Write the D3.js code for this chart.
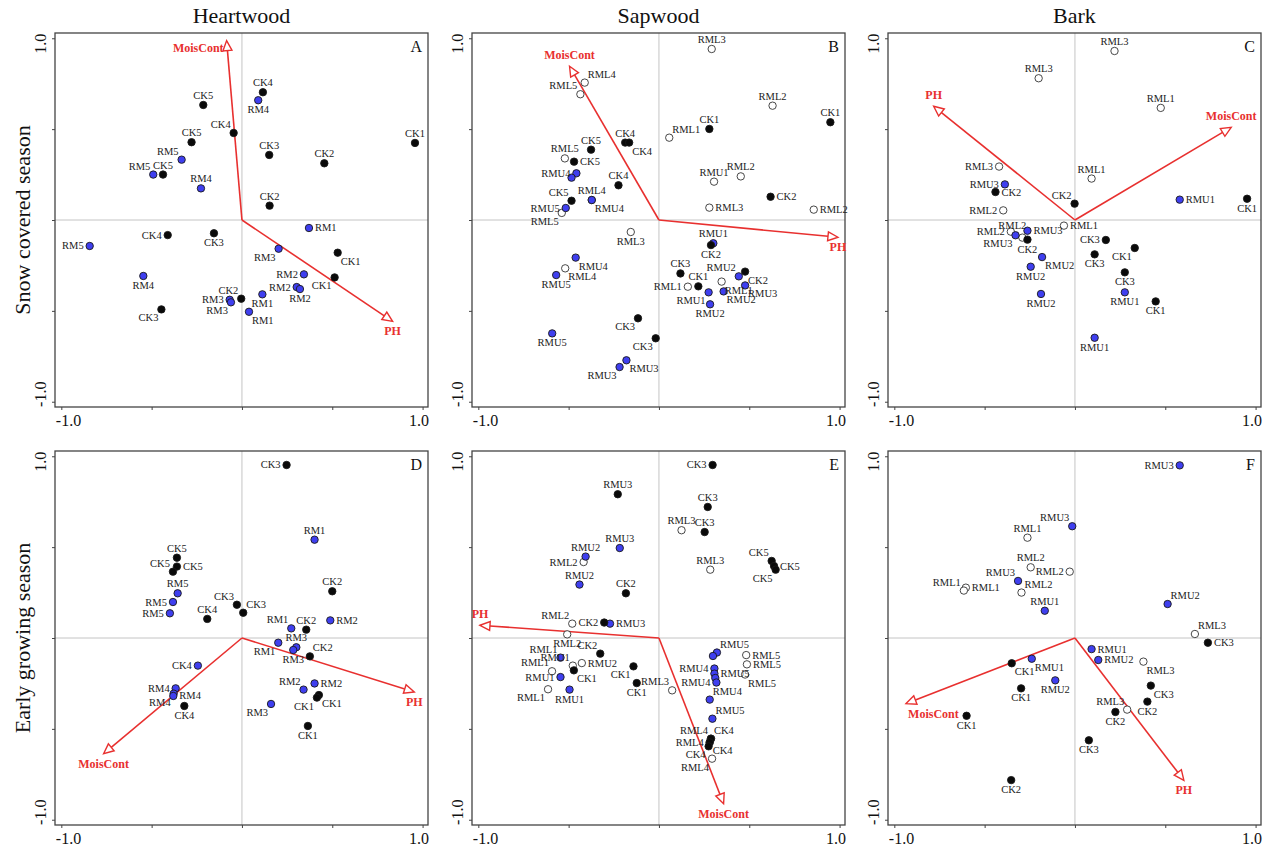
<!DOCTYPE html>
<html lang="en">
<head>
<meta charset="utf-8">
<script src="https://d3js.org/d3.v7.min.js"></script>
<style>
  body { margin: 0; background: #fff; }
  svg { font-family: "Liberation Serif", "Times New Roman", serif; }
</style>
</head>
<body>
<svg id="chart" width="1272" height="850"></svg>
<script>
// titles
var colTitles = ["Heartwood", "Sapwood", "Bark"];
var rowTitles = ["Snow covered season", "Early growing season"];
var panelLetters = ["A", "B", "C", "D", "E", "F"];
var tickVals = [-1, -0.5, 0, 0.5, 1];

// sample scores: [label, group, axis1, axis2]
// group: k = CK (black), u = filled blue, o = open circle
var ptsA = [
  ["CK4","k",0.116,0.703],["RM4","u",0.090,0.659],["CK5","k",-0.214,0.633],["CK4","k",-0.046,0.479],
  ["CK1","k",0.958,0.424],["CK5","k",-0.279,0.428],["CK3","k",0.151,0.358],["CK2","k",0.456,0.312],
  ["RM5","u",-0.334,0.332],["RM5","u",-0.491,0.250],["CK5","k",-0.437,0.250],["RM4","u",-0.227,0.174],
  ["CK2","k",0.153,0.079],["RM1","u",0.371,-0.044],["CK4","k",-0.411,-0.083],["CK3","k",-0.155,-0.073],
  ["RM5","u",-0.843,-0.143],["RM3","u",0.203,-0.158],["CK1","k",0.530,-0.180],["RM2","u",0.343,-0.299],
  ["CK1","k",0.513,-0.316],["RM4","u",-0.546,-0.308],["RM2","u",0.303,-0.369],["RM2","u",0.321,-0.380],
  ["CK2","k",-0.004,-0.433],["RM3","u",-0.068,-0.439],["RM3","u",-0.061,-0.453],["RM1","u",0.113,-0.409],
  ["RM1","u",0.039,-0.505],["CK3","k",-0.446,-0.492]
];
var sideA = "t b t tl t t t t tl tl t t t r l b l bl br l bl b l b tl l bl b br bl".split(" ");

var ptsB = [
  ["RML3","o",0.292,0.941],["RML4","o",-0.411,0.756],["RML5","o",-0.435,0.692],["RML2","o",0.629,0.629],
  ["CK1","k",0.949,0.538],["CK1","k",0.279,0.501],["RML1","o",0.057,0.453],["CK4","k",-0.187,0.426],
  ["CK4","k",-0.165,0.426],["CK5","k",-0.376,0.387],["RML5","o",-0.521,0.339],["CK5","k",-0.470,0.321],
  ["RMU4","u",-0.457,0.257],["RMU4","u",-0.484,0.233],["CK4","k",-0.224,0.191],["RML4","o",-0.372,0.110],
  ["RMU4","u",-0.372,0.110],["CK5","k",-0.484,0.106],["RMU5","u",-0.516,0.066],["RML5","o",-0.538,0.039],
  ["RMU1","o",0.305,0.211],["RML2","o",0.453,0.240],["CK2","k",0.618,0.128],["RML3","o",0.279,0.068],
  ["RML2","o",0.857,0.057],["RML3","o",-0.156,-0.066],["CK2","k",0.288,-0.138],["RMU1","u",0.301,-0.128],
  ["RMU4","u",-0.461,-0.207],["RML4","o",-0.519,-0.266],["RMU5","u",-0.569,-0.303],["CK3","k",0.119,-0.294],
  ["RMU2","u",0.442,-0.310],["CK2","k",0.477,-0.284],["CK1","k",0.218,-0.365],["RML1","o",0.160,-0.367],
  ["RML1","o",0.347,-0.339],["RMU3","u",0.477,-0.360],["RMU1","u",0.275,-0.398],["RMU2","u",0.358,-0.393],
  ["RMU2","u",0.283,-0.464],["CK3","k",-0.116,-0.541],["RMU5","u",-0.591,-0.624],["CK3","k",-0.018,-0.651],
  ["RMU3","u",-0.180,-0.772],["RMU3","u",-0.218,-0.809]
];
var sideB = ("t tr tl t t t tr t br t t r l n t t br tl l bl t t r r r b b t br br b t tl br t l br br bl br " +
  "b bl b bl br bl").split(" ");

var ptsC = [
  ["RML3","o",0.219,0.930],["RML3","o",-0.201,0.780],["RML1","o",0.475,0.617],["RML3","o",-0.420,0.294],
  ["RML1","o",0.092,0.228],["RMU3","u",-0.388,0.196],["CK2","k",-0.440,0.154],["CK2","k",-0.002,0.090],
  ["RMU1","u",0.580,0.112],["CK1","k",0.953,0.117],["RML2","o",-0.397,0.053],["RML1","o",-0.061,-0.031],
  ["RML2","o",-0.355,-0.064],["RMU3","u",-0.329,-0.084],["RML2","o",-0.291,-0.097],["RMU3","u",-0.263,-0.059],
  ["CK2","k",-0.263,-0.108],["CK3","k",0.171,-0.110],["CK1","k",0.331,-0.154],["CK3","k",0.109,-0.189],
  ["RMU2","u",-0.182,-0.204],["RMU2","u",-0.245,-0.257],["CK3","k",0.276,-0.288],["RMU1","u",0.276,-0.398],
  ["CK1","k",0.447,-0.448],["RMU2","u",-0.188,-0.407],["RMU1","u",0.109,-0.648]
];
var sideC = "t t t l t l r tl r b l r l bl hl r b l bl b br b b b b b b".split(" ");

var ptsD = [
  ["CK3","k",0.247,0.952],["RM1","u",0.402,0.541],["CK5","k",-0.360,0.442],["CK5","k",-0.360,0.393],
  ["CK5","k",-0.382,0.365],["CK2","k",0.500,0.257],["RM5","u",-0.356,0.246],["RM5","u",-0.382,0.198],
  ["RM5","u",-0.399,0.136],["CK3","k",-0.028,0.183],["CK3","k",0.007,0.139],["CK4","k",-0.192,0.105],
  ["RM1","u",0.273,0.053],["CK2","k",0.356,0.046],["RM2","u",0.489,0.097],["RM1","u",0.201,-0.026],
  ["RM3","u",0.301,-0.051],["RM3","u",0.284,-0.066],["CK2","k",0.376,-0.101],["CK4","u",-0.244,-0.152],
  ["RM2","u",0.402,-0.250],["RM2","u",0.341,-0.284],["CK1","k",0.426,-0.314],["CK1","k",0.415,-0.328],
  ["RM3","u",0.161,-0.363],["CK1","k",0.365,-0.484],["RM4","u",-0.367,-0.277],["RM4","u",-0.378,-0.306],
  ["RM4","u",-0.380,-0.319],["CK4","k",-0.319,-0.374]
];
var sideD = "l t t r tl t t l l tl tr t tl t r bl t b tr l r tl br bl bl b l bl r b".split(" ");

var ptsE = [
  ["CK3","k",0.297,0.952],["RMU3","k",-0.228,0.791],["CK3","k",0.270,0.721],["RML3","o",0.125,0.593],
  ["CK3","k",0.253,0.583],["RMU3","u",-0.217,0.495],["RMU2","u",-0.406,0.448],["RML2","o",-0.417,0.418],
  ["RML3","o",0.284,0.376],["CK5","k",0.624,0.424],["CK5","k",0.637,0.396],["CK5","k",0.646,0.376],
  ["RMU2","u",-0.440,0.294],["CK2","k",-0.183,0.246],["RML2","o",-0.480,0.079],["CK2","k",-0.303,0.085],
  ["RMU3","u",-0.271,0.079],["RML2","o",-0.508,0.020],["CK2","k",-0.325,-0.086],["RML1","u",-0.545,-0.108],
  ["RMU1","o",-0.477,-0.152],["RMU2","o",-0.427,-0.138],["CK1","k",-0.471,-0.178],["RML1","o",-0.592,-0.183],
  ["RMU1","u",-0.545,-0.215],["RML1","o",-0.614,-0.282],["RMU1","u",-0.495,-0.284],["CK1","k",-0.141,-0.156],
  ["CK1","k",-0.123,-0.248],["RML3","o",0.073,-0.288],["RMU5","u",0.321,-0.080],["RMU5","u",0.299,-0.099],
  ["RML5","o",0.483,-0.094],["RML5","o",0.487,-0.145],["RML5","o",0.477,-0.201],["RMU4","u",0.307,-0.168],
  ["RMU5","u",0.307,-0.196],["RMU4","u",0.312,-0.220],["RMU4","u",0.318,-0.245],["RMU4","u",0.281,-0.339],
  ["RMU5","u",0.296,-0.444],["RML4","o",0.288,-0.554],["RML4","o",0.281,-0.574],["CK4","k",0.288,-0.554],
  ["CK4","k",0.281,-0.574],["CK4","k",0.275,-0.596],["RML4","o",0.294,-0.664]
];
var sideE = ("l t t t t t t l t tl r bl t t tl l r b tl tl tl r br tl l bl b bl b tl tr n r r br l r n l tr " +
  "tr tl l tr br bl bl").split(" ");

var ptsF = [
  ["RMU3","u",0.580,0.950],["RMU3","u",-0.015,0.615],["RML1","o",-0.263,0.552],["RML2","o",-0.245,0.389],
  ["RML2","o",-0.029,0.365],["RMU3","u",-0.315,0.314],["RML2","o",-0.296,0.250],["RML1","o",-0.604,0.277],
  ["RML1","o",-0.615,0.261],["RMU1","u",-0.167,0.150],["RMU2","u",0.513,0.187],["RML3","o",0.664,0.022],
  ["CK3","k",0.736,-0.026],["RMU1","u",0.092,-0.061],["RMU2","u",0.129,-0.121],["CK1","k",-0.350,-0.139],
  ["RMU1","u",-0.239,-0.114],["RMU2","u",-0.109,-0.233],["CK1","k",-0.298,-0.277],["RML3","o",0.379,-0.130],
  ["CK3","k",0.420,-0.262],["CK2","k",0.401,-0.350],["RML3","o",0.289,-0.394],["CK2","k",0.224,-0.407],
  ["CK1","k",-0.600,-0.428],["CK3","k",0.077,-0.563],["CK2","k",-0.353,-0.782]
];
var sideF = "l tl t t l tl tr r tl t tr tr r r r br br b b br br b tl b b b b".split(" ");

// environmental vectors: [name, axis1, axis2]
var arrowsA = [["MoisCont",-0.085,0.987],["PH",0.834,-0.558]];
var arrowsB = [["MoisCont",-0.495,0.846],["PH",0.991,-0.095]];
var arrowsC = [["PH",-0.782,0.626],["MoisCont",0.865,0.510]];
var arrowsD = [["MoisCont",-0.766,-0.637],["PH",0.954,-0.297]];
var arrowsE = [["PH",-0.991,0.070],["MoisCont",0.358,-0.912]];
var arrowsF = [["MoisCont",-0.935,-0.361],["PH",0.603,-0.783]];
var arrowSides = [["l","b"],["t","b"],["t","t"],["b","b"],["t","b"],["br","b"]];

var panels = [
  {pts: ptsA, side: sideA, arr: arrowsA},
  {pts: ptsB, side: sideB, arr: arrowsB},
  {pts: ptsC, side: sideC, arr: arrowsC},
  {pts: ptsD, side: sideD, arr: arrowsD},
  {pts: ptsE, side: sideE, arr: arrowsE},
  {pts: ptsF, side: sideF, arr: arrowsF}
];

var svg = d3.select("#chart");
var panelW = 373, panelH = 374;
var lefts = [55, 472, 888], tops = [33, 451];
var red = "#e8302f";
var blue = "#3f3fef";

// label offsets [dx, dy, anchor]
var labelPos = {
  t: [0, -6, "middle"], b: [0, 13, "middle"],
  l: [-6, 3.5, "end"], r: [6, 3.5, "start"],
  tl: [-3, -5, "end"], tr: [3, -5, "start"],
  bl: [-3, 12, "end"], br: [3, 12, "start"],
  hl: [4, -9, "end"]
};
var arrowLabelPos = {
  t: [0, -7, "middle"], b: [0, 14, "middle"],
  l: [-3, 11, "end"], br: [2, 14, "start"]
};
var groupOrder = {o: 0, u: 1, k: 2};

function tickFmt(d) { return d === 1 ? "1.0" : (d === -1 ? "-1.0" : ""); }

// column and row titles
colTitles.forEach(function (t, c) {
  svg.append("text").attr("x", lefts[c] + panelW / 2).attr("y", 23)
    .attr("text-anchor", "middle").style("font-size", "22px").attr("fill", "#111").text(t);
});
rowTitles.forEach(function (t, r) {
  svg.append("text").attr("transform", "translate(30," + (tops[r] + panelH / 2) + ") rotate(-90)")
    .attr("text-anchor", "middle").style("font-size", "22px").attr("fill", "#111").text(t);
});

panels.forEach(function (p, i) {
  var col = i % 3, row = Math.floor(i / 3);
  var g = svg.append("g").attr("transform", "translate(" + lefts[col] + "," + tops[row] + ")");

  var x = d3.scaleLinear().domain([-1.035, 1.03]).range([0, panelW]);
  var y = d3.scaleLinear().domain([-1.029, 1.029]).range([panelH, 0]);

  // zero lines
  g.append("line").attr("x1", x(0)).attr("x2", x(0)).attr("y1", 0).attr("y2", panelH)
    .attr("stroke", "#c4c4c4").attr("stroke-width", 1);
  g.append("line").attr("x1", 0).attr("x2", panelW).attr("y1", y(0)).attr("y2", y(0))
    .attr("stroke", "#c4c4c4").attr("stroke-width", 1);

  // frame
  g.append("rect").attr("width", panelW).attr("height", panelH)
    .attr("fill", "none").attr("stroke", "#444").attr("stroke-width", 1.3);

  // axes
  var ya = g.append("g").call(d3.axisLeft(y).tickValues(tickVals).tickSize(3).tickFormat(tickFmt));
  ya.select(".domain").remove();
  ya.selectAll("line").attr("stroke", "#444");
  ya.selectAll("text")
    .attr("transform", "rotate(-90)")
    .attr("x", function (d) { return d === 1 ? -5 : 8; })
    .attr("y", -9).attr("dy", 0)
    .attr("text-anchor", "middle")
    .style("font-size", "16px").style("font-family", "Liberation Serif").attr("fill", "#111");

  var xa = g.append("g").attr("transform", "translate(0," + panelH + ")")
    .call(d3.axisBottom(x).tickValues(tickVals).tickSize(3).tickFormat(tickFmt));
  xa.select(".domain").remove();
  xa.selectAll("line").attr("stroke", "#444");
  xa.selectAll("text")
    .attr("y", 19).attr("dy", 0)
    .attr("x", function (d) { return d === -1 ? -6 : 6; })
    .attr("text-anchor", function (d) { return d === -1 ? "start" : "end"; })
    .style("font-size", "16px").style("font-family", "Liberation Serif").attr("fill", "#111");

  // panel letter
  g.append("text").attr("x", panelW - 6).attr("y", 19).attr("text-anchor", "end")
    .style("font-size", "16px").attr("fill", "#111").text(panelLetters[i]);

  // vectors
  var x0 = x(0), y0 = y(0);
  p.arr.forEach(function (a, j) {
    var tx = x(a[1]), ty = y(a[2]);
    var len = Math.hypot(tx - x0, ty - y0);
    var ux = (tx - x0) / len, uy = (ty - y0) / len;
    var bx = tx - ux * 10, by = ty - uy * 10;
    var nx = -uy, ny = ux;
    g.append("line").attr("x1", x0).attr("y1", y0).attr("x2", bx).attr("y2", by)
      .attr("stroke", red).attr("stroke-width", 1.6);
    g.append("polygon")
      .attr("points", [[tx, ty], [bx + nx * 4.5, by + ny * 4.5], [bx - nx * 4.5, by - ny * 4.5]].join(" "))
      .attr("fill", "#fff").attr("stroke", red).attr("stroke-width", 1.4);
    var lp = arrowLabelPos[arrowSides[i][j]];
    g.append("text").attr("x", tx + lp[0]).attr("y", ty + lp[1]).attr("text-anchor", lp[2])
      .style("font-size", "12px").style("font-weight", "bold").attr("fill", red).text(a[0]);
  });

  // points
  var recs = p.pts.map(function (d, k) { return {d: d, s: p.side[k]}; });
  var drawOrder = recs.slice().sort(function (a, b) { return groupOrder[a.d[1]] - groupOrder[b.d[1]]; });

  g.selectAll("circle.pt").data(drawOrder).enter().append("circle")
    .attr("class", "pt")
    .attr("cx", function (r) { return x(r.d[2]); })
    .attr("cy", function (r) { return y(r.d[3]); })
    .attr("r", 3.7)
    .attr("fill", function (r) { return r.d[1] === "k" ? "#0a0a0a" : (r.d[1] === "u" ? blue : "#fff"); })
    .attr("stroke", function (r) { return r.d[1] === "o" ? "#333" : "#1a1a1a"; })
    .attr("stroke-width", 0.9);

  g.selectAll("text.lab").data(recs.filter(function (r) { return r.s !== "n"; })).enter().append("text")
    .attr("class", "lab")
    .attr("x", function (r) { return x(r.d[2]) + labelPos[r.s][0]; })
    .attr("y", function (r) { return y(r.d[3]) + labelPos[r.s][1]; })
    .attr("text-anchor", function (r) { return labelPos[r.s][2]; })
    .style("font-size", "10.5px").attr("fill", "#222")
    .text(function (r) { return r.d[0]; });
});
</script>
</body>
</html>
